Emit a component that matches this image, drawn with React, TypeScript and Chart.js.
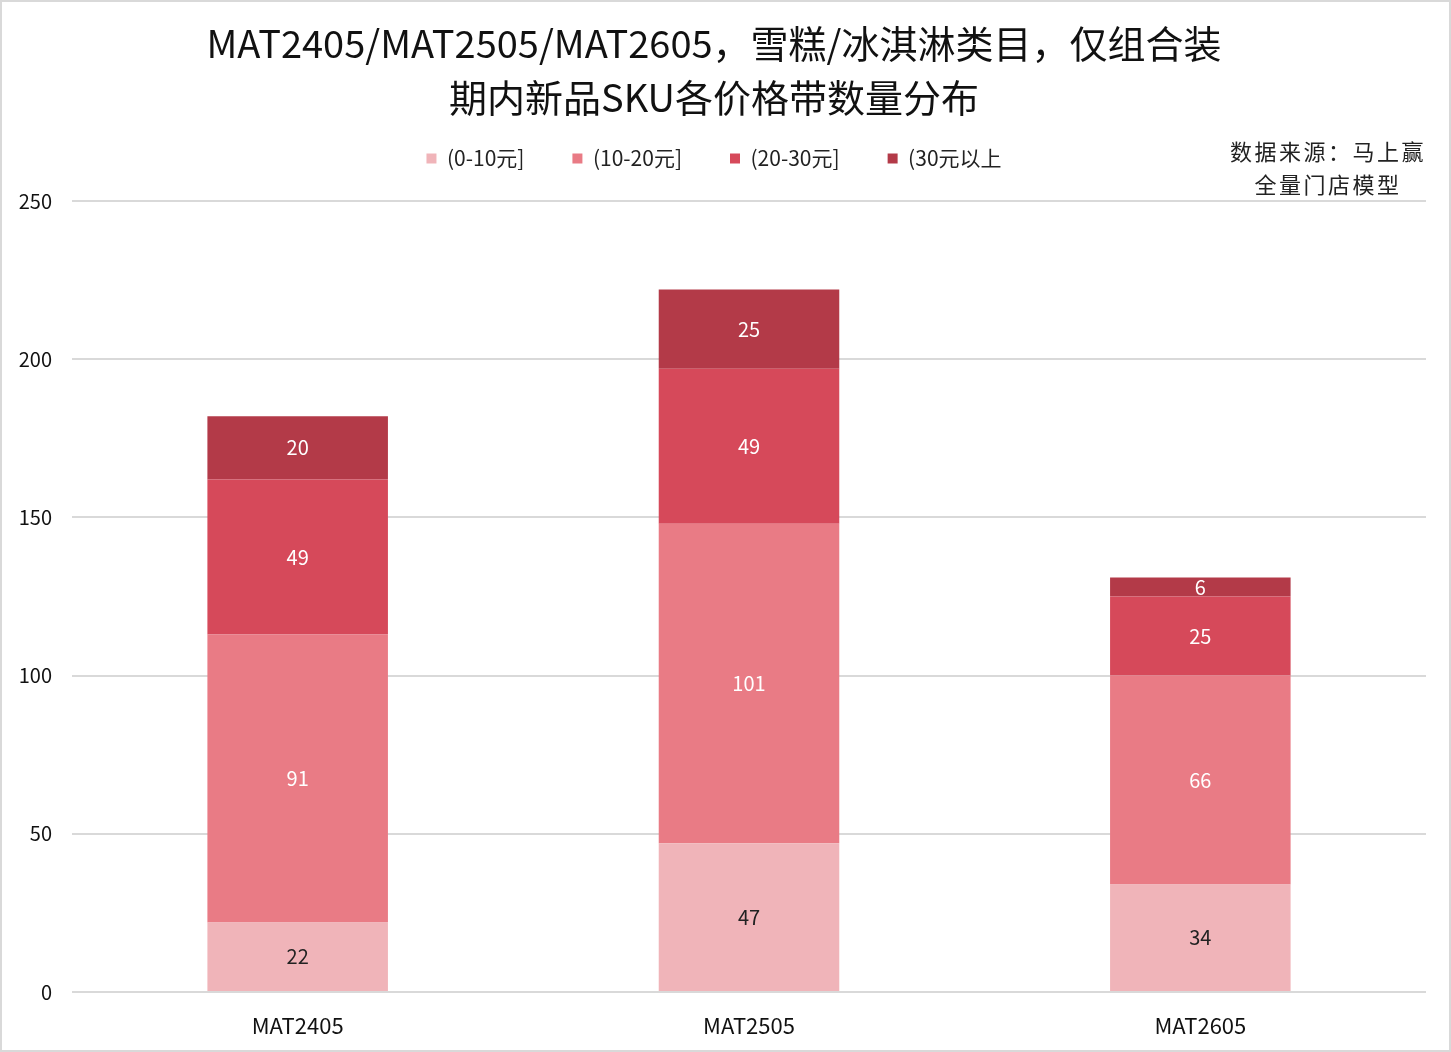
import React, { useEffect, useRef } from 'react';
import { Chart, registerables, Plugin } from 'chart.js';

Chart.register(...registerables);

const categories = ['MAT2405', 'MAT2505', 'MAT2605'];
const seriesNames = ['(0-10元]', '(10-20元]', '(20-30元]', '(30元以上'];
const band0to10 = [22, 47, 34];
const band10to20 = [91, 101, 66];
const band20to30 = [49, 49, 25];
const band30plus = [20, 25, 6];
const yTicks = [0, 50, 100, 150, 200, 250];

const titleLines = ['MAT2405/MAT2505/MAT2605，雪糕/冰淇淋类目，仅组合装', '期内新品SKU各价格带数量分布'];
const sourceLines = ['数据来源：马上赢', '全量门店模型'];

const colors = ['#f0b4b9', '#e97b85', '#d6495a', '#b33a48'];
const labelColors = ['#222222', '#ffffff', '#ffffff', '#ffffff'];

const FONT = "'Noto Sans CJK SC', 'DejaVu Sans', sans-serif";

// draws the value in the middle of every bar segment
const valueLabels: Plugin<'bar'> = {
  id: 'valueLabels',
  afterDatasetsDraw(chart) {
    const ctx = chart.ctx;
    ctx.save();
    ctx.font = `20px ${FONT}`;
    ctx.textAlign = 'center';
    ctx.textBaseline = 'middle';
    chart.data.datasets.forEach((ds, i) => {
      const meta = chart.getDatasetMeta(i);
      meta.data.forEach((bar: any, j) => {
        const v = ds.data[j] as number;
        const mid = (bar.y + bar.base) / 2;
        ctx.fillStyle = labelColors[i];
        ctx.fillText(String(v), bar.x, mid);
      });
    });
    ctx.restore();
  },
};

const App: React.FC = () => {
  const canvasRef = useRef<HTMLCanvasElement>(null);

  useEffect(() => {
    document.body.style.margin = '0';
    if (!canvasRef.current) return;
    const values = [band0to10, band10to20, band20to30, band30plus];
    const chart = new Chart(canvasRef.current, {
      type: 'bar',
      data: {
        labels: categories,
        datasets: values.map((d, i) => ({
          label: seriesNames[i],
          data: d,
          backgroundColor: colors[i],
          borderWidth: 0,
          barPercentage: 0.4,
          categoryPercentage: 1,
        })),
      },
      options: {
        animation: false,
        responsive: false,
        devicePixelRatio: 1,
        layout: { padding: { left: 0, right: 23, top: 0, bottom: 0 } },
        plugins: {
          title: {
            display: true,
            text: titleLines,
            color: '#111111',
            font: { family: FONT, size: 38, weight: 'normal', lineHeight: 54 / 38 },
            padding: { top: 15, bottom: -25 },
          },
          // empty spacer between legend and plot
          subtitle: {
            display: true,
            text: '',
            weight: 500,
            font: { size: 1, lineHeight: 1 },
            padding: { top: 21, bottom: 0 },
          },
          legend: {
            position: 'top',
            labels: {
              boxWidth: 10,
              boxHeight: 10,
              padding: 48,
              color: '#222222',
              font: { family: FONT, size: 21 },
            },
          },
          tooltip: { enabled: false },
        },
        scales: {
          x: {
            stacked: true,
            grid: { display: false },
            border: { display: false },
            afterFit: (axis) => {
              axis.height = 58;
            },
            ticks: { color: '#111111', font: { family: FONT, size: 22 }, padding: 12 },
          },
          y: {
            stacked: true,
            min: 0,
            max: 250,
            afterBuildTicks: (axis) => {
              axis.ticks = yTicks.map((v) => ({ value: v }));
            },
            afterFit: (axis) => {
              axis.width = 70;
            },
            grid: { color: '#d9d9d9', lineWidth: 2, drawTicks: false },
            border: { display: false },
            ticks: { color: '#111111', font: { family: FONT, size: 20 }, padding: 20 },
          },
        },
      },
      plugins: [valueLabels],
    });
    return () => chart.destroy();
  }, []);

  return (
    <div
      style={{
        position: 'relative',
        width: 1451,
        height: 1052,
        boxSizing: 'border-box',
        border: '2px solid #d9d9d9',
        background: '#ffffff',
      }}
    >
      <canvas ref={canvasRef} width={1447} height={1048} style={{ display: 'block' }} />
      <div
        style={{
          position: 'absolute',
          left: 1206,
          width: 240,
          top: 132,
          textAlign: 'center',
          fontFamily: FONT,
          fontSize: 22,
          letterSpacing: '2.5px',
          lineHeight: '33px',
          color: '#222222',
        }}
      >
        {sourceLines.map((s) => (
          <div key={s}>{s}</div>
        ))}
      </div>
    </div>
  );
};

export default App;
